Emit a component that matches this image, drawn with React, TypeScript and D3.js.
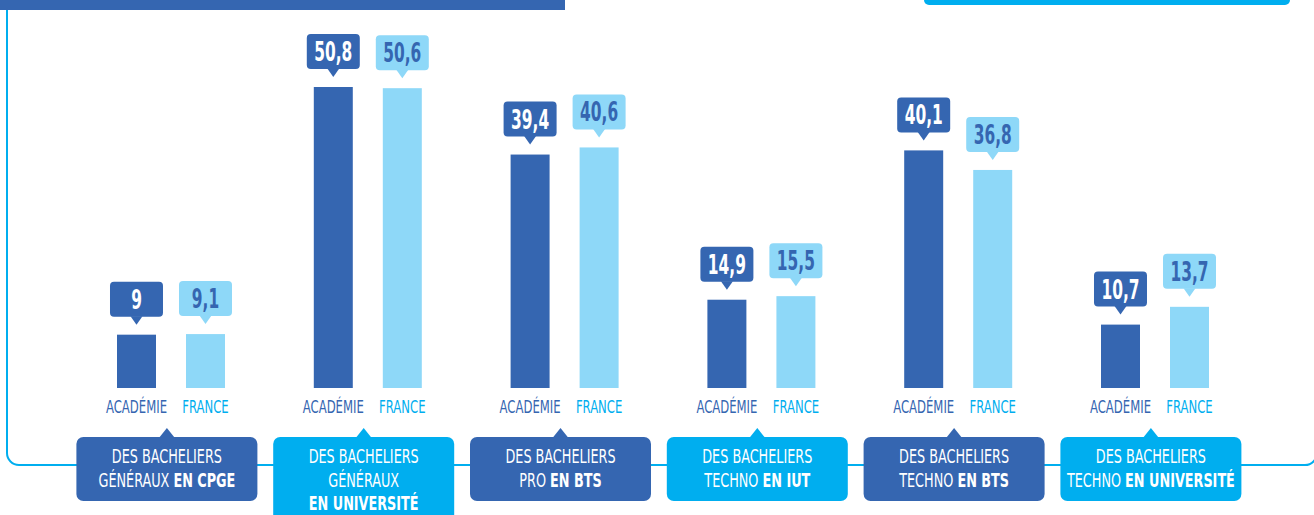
import React from "react";
import * as d3 from "d3";

const categories = ["cpge", "univ_gen", "bts_pro", "iut_techno", "bts_techno", "univ_techno"];
const categoryLines: [string, string][][] = [
  [["DES BACHELIERS", ""], ["GÉNÉRAUX ", "EN CPGE"]],
  [["DES BACHELIERS", ""], ["GÉNÉRAUX", ""], ["", "EN UNIVERSITÉ"]],
  [["DES BACHELIERS", ""], ["PRO ", "EN BTS"]],
  [["DES BACHELIERS", ""], ["TECHNO ", "EN IUT"]],
  [["DES BACHELIERS", ""], ["TECHNO ", "EN BTS"]],
  [["DES BACHELIERS", ""], ["TECHNO ", "EN UNIVERSITÉ"]],
];
const seriesNames = ["ACADÉMIE", "FRANCE"];
const academie = [9, 50.8, 39.4, 14.9, 40.1, 10.7];
const france = [9.1, 50.6, 40.6, 15.5, 36.8, 13.7];

const DARK = "#3566b1";
const LIGHT = "#8ed8f8";
const CYAN = "#00aeef";
const FONT = "'DejaVu Sans Condensed', 'DejaVu Sans', sans-serif";

export default function App() {
  const W = 1314, H = 515;
  const x = d3.scaleBand<string>().domain(categories).range([68.5, 68.5 + 6 * 196.8]).padding(0);
  const xi = d3.scaleBand<string>().domain(seriesNames).range([48.5, 156.5]).paddingInner(0.435).paddingOuter(0);
  const y = d3.scaleLinear().domain([0, 50.8]).range([388, 87]);
  const fmt = (v: number) => String(v).replace(".", ",");
  const series = [academie, france];
  const boxW = 53, boxH = 35;

  return (
    <svg width={W} height={H} style={{ position: "absolute", left: 0, top: 0, display: "block" }} fontFamily={FONT}>
      <rect x={0} y={0} width={W} height={H} fill="#fff" />
      <rect x={0} y={0} width={565} height={10} fill={DARK} />
      <rect x={924} y={-6} width={366} height={11} rx={5} fill={CYAN} />
      <path
        d={`M7,10 V453 A12,12 0 0 0 19,465 H1305 A12,12 0 0 0 1317,453 V0`}
        fill="none"
        stroke={CYAN}
        strokeWidth={2}
      />
      {categories.map((c, ci) => {
        const gx = x(c)!;
        const cx = gx + x.bandwidth() / 2;
        const lines = categoryLines[ci];
        const bw = 181;
        const bTop = 437;
        const bH = lines.length === 3 ? 90 : 64;
        const fill = ci % 2 === 0 ? DARK : CYAN;
        return (
          <g key={c}>
            {series.map((vals, si) => {
              const v = vals[ci];
              const bx = gx + xi(seriesNames[si])!;
              const w = xi.bandwidth();
              const top = y(v);
              const mx = bx + w / 2;
              const boxBottom = top - 18;
              const boxTop = boxBottom - boxH;
              const bf = si === 0 ? DARK : LIGHT;
              const tf = si === 0 ? "#fff" : DARK;
              return (
                <g key={si}>
                  <rect x={bx} y={top} width={w} height={y(0) - top} fill={si === 0 ? DARK : LIGHT} />
                  <rect x={mx - boxW / 2} y={boxTop} width={boxW} height={boxH} rx={4} fill={bf} />
                  <path d={`M${mx - 6},${boxBottom - 0.5} L${mx},${top - 10} L${mx + 6},${boxBottom - 0.5} Z`} fill={bf} />
                  <text
                    transform={`translate(${mx},${boxBottom - 8}) scale(0.66,1)`}
                    textAnchor="middle"
                    fontSize={26}
                    fontWeight="bold"
                    fill={tf}
                  >
                    {fmt(v)}
                  </text>
                  <text
                    transform={`translate(${mx},413) scale(0.72,1)`}
                    textAnchor="middle"
                    fontSize={18}
                    fill={si === 0 ? DARK : CYAN}
                  >
                    {seriesNames[si]}
                  </text>
                </g>
              );
            })}
            <rect x={cx - bw / 2} y={bTop} width={bw} height={bH} rx={7} fill={fill} />
            <path d={`M${cx - 8},${bTop + 1} L${cx},${bTop - 9} L${cx + 8},${bTop + 1} Z`} fill={fill} />
            {lines.map((ln, li) => (
              <text
                key={li}
                transform={`translate(${cx},${463 + li * 23.5}) scale(0.73,1)`}
                textAnchor="middle"
                fontSize={19.5}
                fill="#fff"
              >
                {ln[0] && <tspan>{ln[0]}</tspan>}
                {ln[1] && <tspan fontWeight="bold">{ln[1]}</tspan>}
              </text>
            ))}
          </g>
        );
      })}
    </svg>
  );
}
